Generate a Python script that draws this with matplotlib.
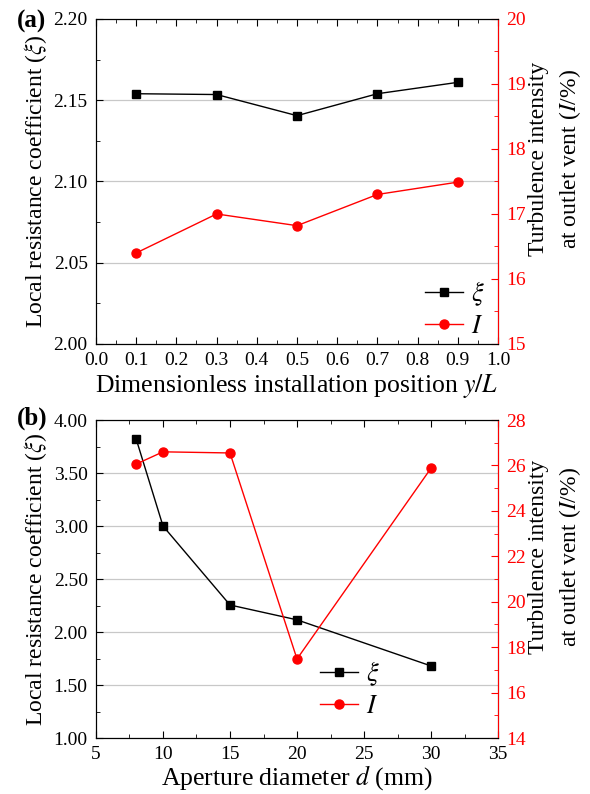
import matplotlib
matplotlib.use('Agg')
import matplotlib.pyplot as plt
from matplotlib.ticker import MultipleLocator, FormatStrFormatter

plt.rcParams['font.family'] = ['Liberation Serif', 'DejaVu Serif']
plt.rcParams['mathtext.fontset'] = 'stix'

# panel (a) data
pos = [0.1, 0.3, 0.5, 0.7, 0.9]
xi_a = [2.154, 2.1535, 2.1405, 2.154, 2.161]
ti_a = [16.40, 17.00, 16.82, 17.30, 17.49]

# panel (b) data
dia = [8, 10, 15, 20, 30]
xi_b = [3.82, 3.00, 2.255, 2.115, 1.68]
ti_b = [26.06, 26.60, 26.55, 17.48, 25.88]

ylab_l = 'Local resistance coefficient ($\\xi$)'
ylab_r = 'Turbulence intensity\nat outlet vent ($\\mathit{I}$/%)'

fig = plt.figure(figsize=(5.9, 7.94), dpi=100)

def setup(ax, ax2):
    ax.tick_params(which='both', direction='in', top=True, labelsize=14, pad=6)
    ax.tick_params(which='major', length=5)
    ax.tick_params(which='minor', length=3)
    ax.grid(axis='y', which='major', color='#c8c8c8', lw=0.9)
    ax.set_axisbelow(True)
    ax2.spines['right'].set_color('red')
    ax2.tick_params(which='both', direction='in', colors='red', labelsize=14, pad=6)
    ax2.tick_params(which='major', length=5)
    ax2.tick_params(which='minor', length=3)
    ax.set_ylabel(ylab_l, fontsize=17, labelpad=3)
    ax2.set_ylabel(ylab_r, fontsize=17, rotation=90, linespacing=1.42)
    ax2.yaxis.set_label_coords(1.075, 0.57)

# ---- (a)
ax = fig.add_axes([0.1627, 0.5668, 0.6814, 0.4093])
ax2 = ax.twinx()
l1, = ax.plot(pos, xi_a, color='black', marker='s', ms=5.5, lw=1)
l2, = ax2.plot(pos, ti_a, color='red', marker='o', ms=6.5, lw=1)
ax.set_xlim(0, 1.0)
ax.set_ylim(2.0, 2.2)
ax2.set_ylim(15, 20)
ax.xaxis.set_major_locator(MultipleLocator(0.1))
ax.xaxis.set_minor_locator(MultipleLocator(0.05))
ax.xaxis.set_major_formatter(FormatStrFormatter('%.1f'))
ax.yaxis.set_major_locator(MultipleLocator(0.05))
ax.yaxis.set_minor_locator(MultipleLocator(0.025))
ax.yaxis.set_major_formatter(FormatStrFormatter('%.2f'))
ax2.yaxis.set_major_locator(MultipleLocator(1))
ax2.yaxis.set_minor_locator(MultipleLocator(0.5))
ax.set_xlabel('Dimensionless installation position $\\mathit{y/L}$', fontsize=18.5, labelpad=2)
setup(ax, ax2)
ax.legend([l1, l2], ['$\\xi$', '$\\mathit{I}$'], loc='center left', frameon=False,
          fontsize=19, handlelength=1.45, handletextpad=0.3, borderpad=0,
          borderaxespad=0, labelspacing=0.25, bbox_to_anchor=(0.818, 0.109))
fig.text(0.029, 0.9736, '(a)', fontsize=18, fontweight='bold', va='center')

# ---- (b)
bx = fig.add_axes([0.1627, 0.0705, 0.6814, 0.4005])
bx2 = bx.twinx()
m1, = bx.plot(dia, xi_b, color='black', marker='s', ms=5.5, lw=1)
m2, = bx2.plot(dia, ti_b, color='red', marker='o', ms=6.5, lw=1)
bx.set_xlim(5, 35)
bx.set_ylim(1.0, 4.0)
bx2.set_ylim(14, 28)
bx.xaxis.set_major_locator(MultipleLocator(5))
bx.xaxis.set_minor_locator(MultipleLocator(2.5))
bx.yaxis.set_major_locator(MultipleLocator(0.5))
bx.yaxis.set_minor_locator(MultipleLocator(0.25))
bx.yaxis.set_major_formatter(FormatStrFormatter('%.2f'))
bx2.yaxis.set_major_locator(MultipleLocator(2))
bx2.yaxis.set_minor_locator(MultipleLocator(1))
bx.set_xlabel('Aperture diameter $\\mathit{d}$ (mm)', fontsize=18.5, labelpad=0)
setup(bx, bx2)
bx.legend([m1, m2], ['$\\xi$', '$\\mathit{I}$'], loc='center left', frameon=False,
          fontsize=19, handlelength=1.45, handletextpad=0.3, borderpad=0,
          borderaxespad=0, labelspacing=0.25, bbox_to_anchor=(0.557, 0.155))
fig.text(0.029, 0.4736, '(b)', fontsize=18, fontweight='bold', va='center')

fig.savefig('out.png', dpi=100)
